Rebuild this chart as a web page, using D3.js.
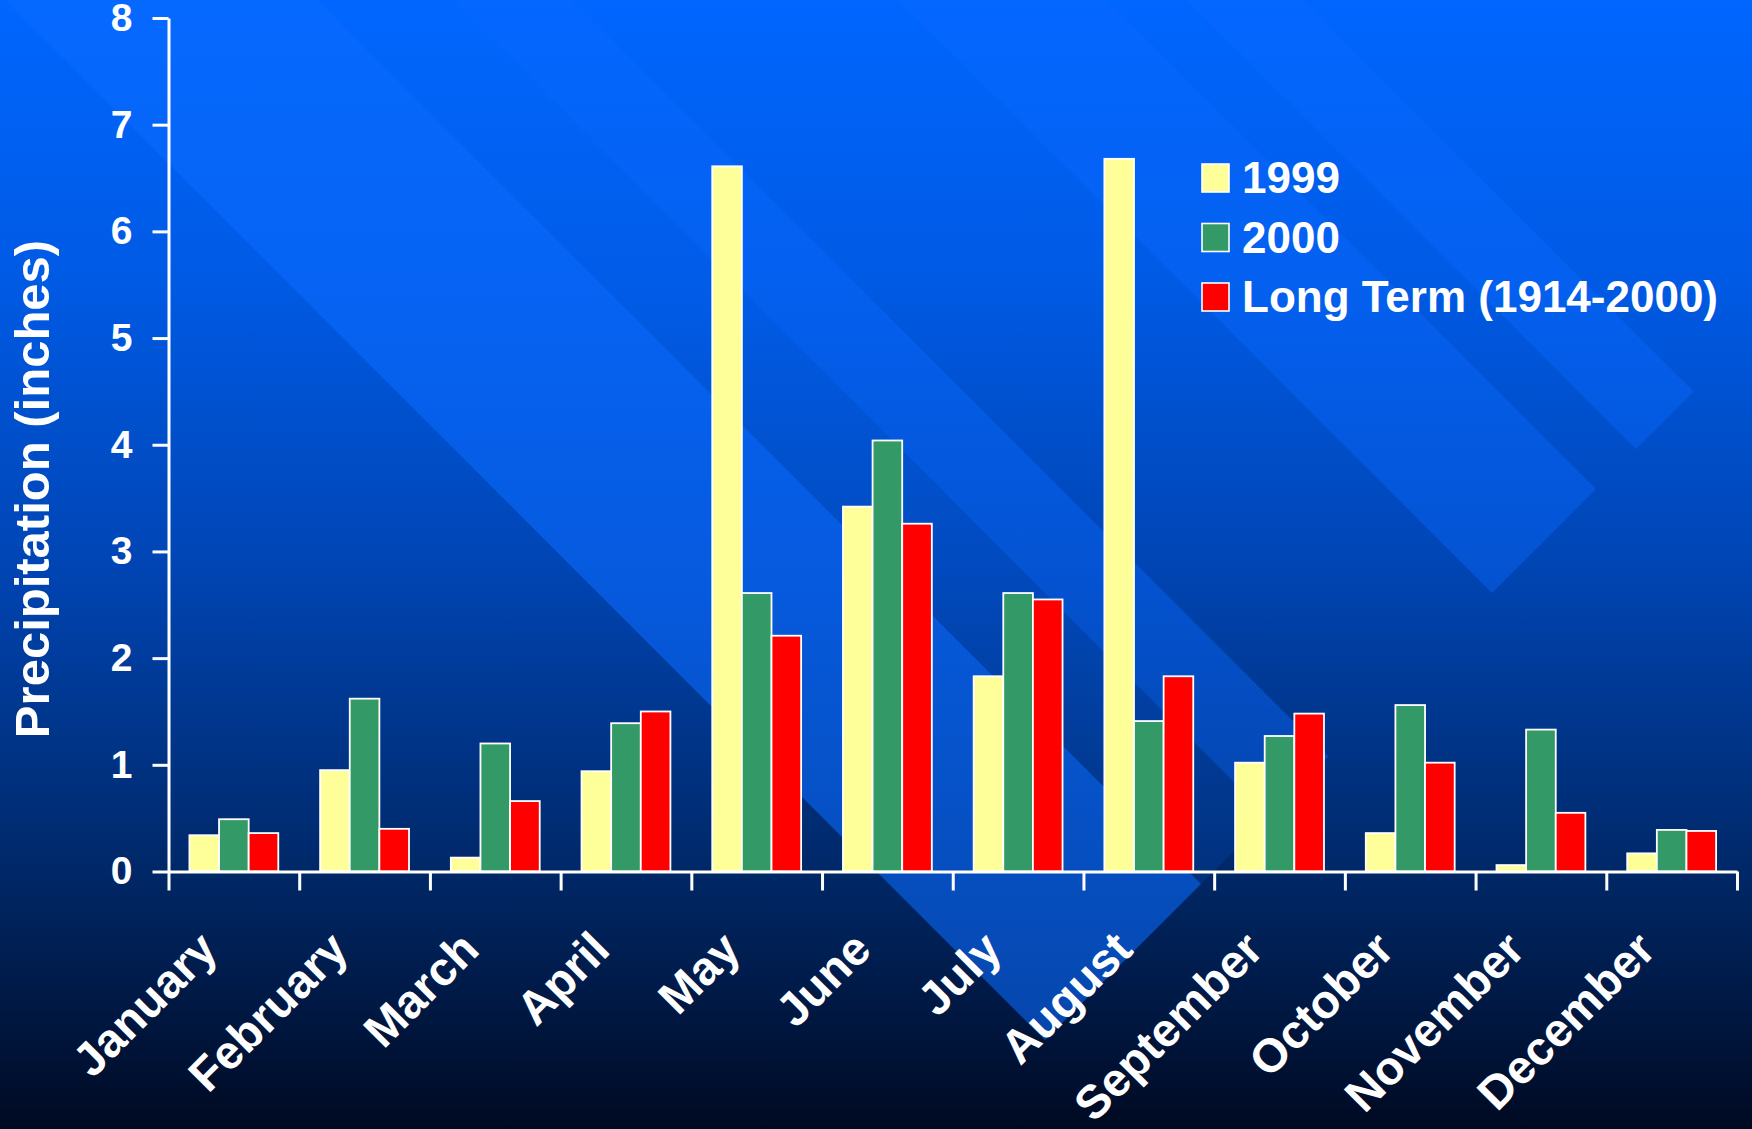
<!DOCTYPE html>
<html><head><meta charset="utf-8">
<script src="https://cdn.jsdelivr.net/npm/d3@7"></script>
<style>html,body{margin:0;padding:0;background:#000a22;} svg{display:block;}</style>
</head><body>
<svg id="chart" width="1752" height="1129"></svg>
<script>
// ---- data ----
const months = ["January","February","March","April","May","June","July","August","September","October","November","December"];
const seriesNames = ["1999","2000","Long Term (1914-2000)"];
const values1999 = [0.34, 0.95, 0.13, 0.94, 6.61, 3.42, 1.83, 6.68, 1.02, 0.36, 0.06, 0.17];
const values2000 = [0.49, 1.62, 1.20, 1.39, 2.61, 4.04, 2.61, 1.41, 1.27, 1.56, 1.33, 0.39];
const valuesLongTerm = [0.36, 0.40, 0.66, 1.50, 2.21, 3.26, 2.55, 1.83, 1.48, 1.02, 0.55, 0.38];
const yTicks = [0,1,2,3,4,5,6,7,8];
const yTitle = "Precipitation (inches)";

// ---- styles ----
const seriesColors = ["#FFFF99", "#339966", "#FF0000"];
const font = "'Liberation Sans', Arial, sans-serif";
const W = 1752, H = 1129;
const plot = {left: 168.5, right: 1737, top: 18, bottom: 871.5};

const svg = d3.select("#chart");
const defs = svg.append("defs");

// background gradient
const bg = defs.append("linearGradient").attr("id","bg").attr("x1",0).attr("y1",0).attr("x2",0).attr("y2",1);
[[0,"#0066ff"],[0.25,"#005ae4"],[0.5,"#0045b4"],[0.77,"#002868"],[1,"#000a22"]]
  .forEach(([o,c]) => bg.append("stop").attr("offset",o).attr("stop-color",c));
svg.append("rect").attr("width",W).attr("height",H).attr("fill","url(#bg)");

// decorative diagonal stripes (45 deg), all cut by line x+y = cut
const cut = 2085;
const stripes = [
  {c1:-1302, c2:-1187, op:0.42},
  {c1:-1107, c2:-899, op:0.42},
  {c1:-572, c2:-452, op:0.42},
  {c1:-452, c2:-317, op:0.15},
  {c1:-317, c2:-5, op:0.58}
];
svg.append("g").selectAll("polygon").data(stripes).join("polygon")
  .attr("points", d => [[-d.c1,0],[(cut-d.c1)/2,(cut+d.c1)/2],[(cut-d.c2)/2,(cut+d.c2)/2],[-d.c2,0]].map(p=>p.join(",")).join(" "))
  .attr("fill","#0a6aff").attr("opacity", d => d.op);

// ---- scales ----
const x = d3.scaleBand().domain(months).range([plot.left, plot.right]).paddingInner(0.32).paddingOuter(0.16);
const xs = d3.scaleBand().domain(seriesNames).range([0, x.bandwidth()]);
const y = d3.scaleLinear().domain([0, 8]).range([plot.bottom, plot.top]);
const xEdge = d3.scaleLinear().domain([0, months.length]).range([plot.left, plot.right]);

const allSeries = [values1999, values2000, valuesLongTerm];
const barData = [];
months.forEach((m, i) => seriesNames.forEach((s, j) => barData.push({m, s, v: allSeries[j][i], c: seriesColors[j]})));

// bars
svg.append("g").selectAll("rect").data(barData).join("rect")
  .attr("x", d => x(d.m) + xs(d.s))
  .attr("y", d => y(d.v))
  .attr("width", xs.bandwidth())
  .attr("height", d => y(0) - y(d.v))
  .attr("fill", d => d.c)
  .attr("stroke", "#ffffff").attr("stroke-width", 1.8);

// y axis
const yAxis = svg.append("g").attr("transform", `translate(${plot.left},0)`)
  .call(d3.axisLeft(y).tickValues(yTicks).tickFormat(d3.format("d")).tickSize(16).tickSizeOuter(0).tickPadding(20));
yAxis.selectAll("path,line").attr("stroke","#ffffff").attr("stroke-width",3);
yAxis.selectAll("text").attr("fill","#ffffff").attr("font-family",font).attr("font-weight","bold").attr("font-size",39);

// x axis (category boundary ticks)
const xAxis = svg.append("g").attr("transform", `translate(0,${plot.bottom})`)
  .call(d3.axisBottom(xEdge).tickValues(d3.range(months.length + 1)).tickFormat("").tickSize(19).tickSizeOuter(0));
xAxis.selectAll("path,line").attr("stroke","#ffffff").attr("stroke-width",3);

// x labels
svg.append("g").selectAll("text").data(months).join("text")
  .attr("transform", d => `translate(${x(d) + x.bandwidth()/2 - 14},${952}) rotate(-45)`)
  .attr("text-anchor","end")
  .attr("fill","#ffffff").attr("font-family",font).attr("font-weight","bold").attr("font-size",47)
  .text(d => d);

// y title
svg.append("text")
  .attr("transform", `translate(49,489) rotate(-90)`)
  .attr("text-anchor","middle")
  .attr("fill","#ffffff").attr("font-family",font).attr("font-weight","bold").attr("font-size",49)
  .text(yTitle);

// legend
const legend = svg.append("g").attr("transform","translate(1202,164)");
const li = legend.selectAll("g").data(seriesNames).join("g").attr("transform",(d,i)=>`translate(0,${i*59.5})`);
li.append("rect").attr("width",27).attr("height",28).attr("fill",(d,i)=>seriesColors[i]).attr("stroke","#ffffff").attr("stroke-width",1.6);
li.append("text").attr("x",40).attr("y",29).attr("fill","#ffffff").attr("font-family",font).attr("font-weight","bold").attr("font-size",44).text(d=>d);
</script>
</body></html>
